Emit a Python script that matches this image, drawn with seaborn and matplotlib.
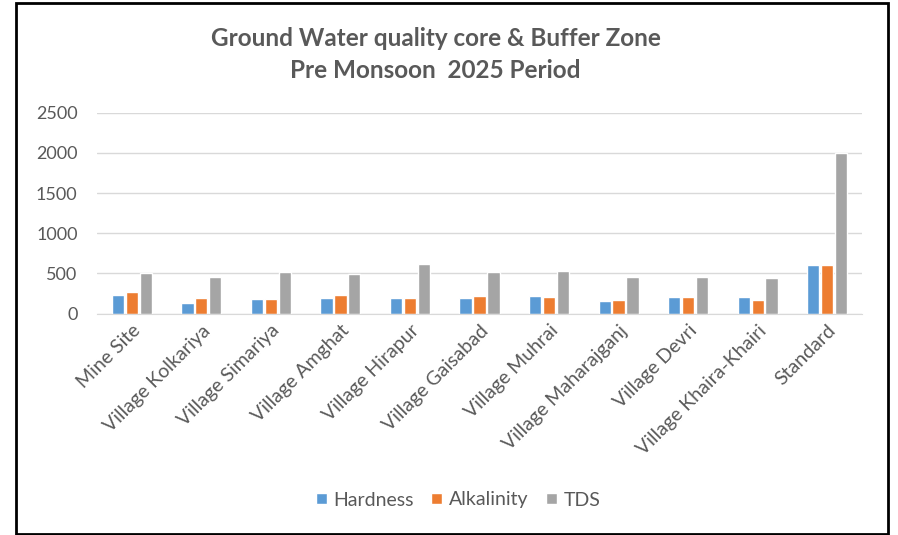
import pandas as pd
import matplotlib.pyplot as plt
import seaborn as sns
from matplotlib.patches import Rectangle

sites = ["Mine Site", "Village Kolkariya", "Village Simariya", "Village Amghat",
         "Village Hirapur", "Village Gaisabad", "Village Muhrai",
         "Village Maharajganj", "Village Devri", "Village Khaira-Khairi", "Standard"]
hardness = [233, 133, 175, 192, 192, 192, 221, 150, 204, 204, 600]
alkalinity = [262, 192, 175, 233, 192, 221, 204, 167, 204, 167, 600]
tds = [500, 458, 512, 487, 617, 512, 529, 458, 458, 442, 2000]
params = ["Hardness", "Alkalinity", "TDS"]
colors = ["#5B9BD5", "#ED7D31", "#A5A5A5"]

df = pd.DataFrame({"Site": sites, "Hardness": hardness,
                   "Alkalinity": alkalinity, "TDS": tds})
df = df.melt(id_vars="Site", var_name="Parameter", value_name="Value")

sns.set_style("white")
plt.rcParams["font.family"] = ["Lato", "DejaVu Sans"]

fig = plt.figure(figsize=(8.98, 5.35), dpi=100)
ax = fig.add_axes([97 / 898, 1 - 313.5 / 535, (862 - 97) / 898, (313.5 - 112.7) / 535])

sns.barplot(data=df, x="Site", y="Value", hue="Parameter", hue_order=params,
            palette=colors, width=0.6, gap=0.12, saturation=1, ax=ax)

ax.set_ylim(0, 2500)
ax.set_yticks(range(0, 2501, 500))
ax.yaxis.grid(True, color="#D9D9D9", linewidth=1)
ax.set_axisbelow(True)
for s in ["top", "right", "left"]:
    ax.spines[s].set_visible(False)
ax.spines["bottom"].set_color("#D9D9D9")
ax.set_xlabel("")
ax.set_ylabel("")
ax.tick_params(axis="y", length=0, pad=14, labelsize=13, labelcolor="#595959")
ax.tick_params(axis="x", length=0, pad=6, labelsize=14, labelcolor="#595959")
plt.setp(ax.get_xticklabels(), rotation=45, ha="right", rotation_mode="anchor")

ax.legend(loc="center", bbox_to_anchor=(458 / 898, 1 - 500 / 535), bbox_transform=fig.transFigure,
          ncol=3, frameon=False, fontsize=14, handlelength=0.55, handleheight=0.55,
          handletextpad=0.35, columnspacing=0.9, labelcolor="#595959")

fig.text(0.485, 1 - 38 / 535, "Ground Water quality core & Buffer Zone",
         ha="center", va="center", fontsize=17.5, fontweight="bold", color="#595959")
fig.text(0.485, 1 - 70 / 535, "Pre Monsoon  2025 Period",
         ha="center", va="center", fontsize=17.5, fontweight="bold", color="#595959")

fig.patches.append(Rectangle((16 / 898, 1 - 534 / 535), (888 - 16) / 898, (534 - 3) / 535,
                             transform=fig.transFigure, fill=False,
                             edgecolor="black", linewidth=2))

fig.savefig("out.png", dpi=100, facecolor="white")
